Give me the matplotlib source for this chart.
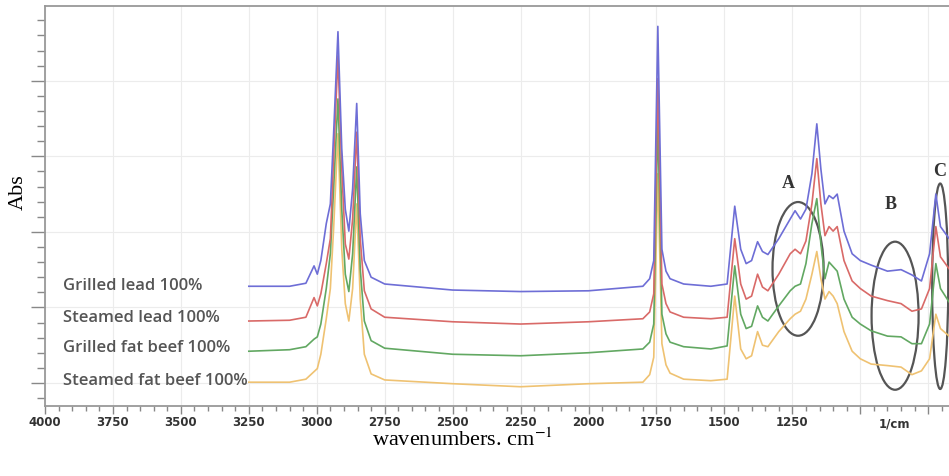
import matplotlib.pyplot as plt
from matplotlib.patches import Ellipse
from matplotlib.ticker import MultipleLocator

plt.rcParams["mathtext.fontset"] = "stix"

# wavenumbers (1/cm) shared by all four spectra
wavenumbers = [
    3250, 3100, 3040, 3010, 2998, 2985, 2965, 2950, 2938, 2922, 2908, 2895,
    2882, 2868, 2853, 2840, 2825, 2800, 2750, 2500, 2250, 2000, 1800, 1775,
    1760, 1745, 1730, 1715, 1700, 1650, 1550, 1490, 1462, 1440, 1420, 1400,
    1378, 1360, 1340, 1300, 1258, 1240, 1220, 1200, 1178, 1160, 1145, 1130,
    1115, 1100, 1085, 1060, 1030, 1000, 960, 900, 850, 810, 775, 745, 722,
    705, 673, 640,
]

grilled_lead = [
    1.28, 1.28, 1.32, 1.55, 1.44, 1.62, 2.11, 2.37, 3.30, 4.65, 3.10, 2.30,
    2.01, 2.57, 3.70, 2.24, 1.62, 1.40, 1.31, 1.23, 1.21, 1.22, 1.28, 1.38,
    1.62, 4.72, 1.77, 1.48, 1.38, 1.31, 1.28, 1.31, 2.34, 1.77, 1.58, 1.62,
    1.87, 1.74, 1.70, 1.91, 2.17, 2.28, 2.17, 2.30, 2.77, 3.43, 2.83, 2.37,
    2.48, 2.44, 2.50, 2.01, 1.71, 1.62, 1.56, 1.48, 1.50, 1.43, 1.35, 1.71,
    2.50, 2.07, 1.91, 1.84,
]

steamed_lead = [
    0.82, 0.83, 0.87, 1.13, 1.02, 1.18, 1.58, 1.91, 2.97, 4.33, 2.83, 1.84,
    1.64, 2.17, 3.32, 1.91, 1.22, 0.98, 0.87, 0.81, 0.78, 0.81, 0.85, 0.94,
    1.18, 4.03, 1.31, 1.05, 0.94, 0.87, 0.85, 0.87, 1.91, 1.31, 1.11, 1.15,
    1.44, 1.27, 1.22, 1.44, 1.71, 1.77, 1.71, 1.88, 2.37, 2.97, 2.37, 1.95,
    2.07, 2.01, 2.07, 1.62, 1.35, 1.25, 1.15, 1.09, 1.05, 0.95, 0.98, 1.25,
    2.07, 1.67, 1.51, 1.44,
]

grilled_fat_beef = [
    0.42, 0.44, 0.48, 0.58, 0.61, 0.78, 1.25, 1.71, 2.57, 3.76, 2.30, 1.44,
    1.21, 1.71, 2.86, 1.51, 0.82, 0.56, 0.46, 0.38, 0.36, 0.40, 0.45, 0.54,
    0.78, 3.50, 0.91, 0.65, 0.54, 0.48, 0.45, 0.49, 1.55, 0.91, 0.72, 0.75,
    1.02, 0.87, 0.82, 1.02, 1.22, 1.28, 1.31, 1.58, 2.11, 2.44, 1.84, 1.38,
    1.60, 1.54, 1.48, 1.11, 0.87, 0.78, 0.69, 0.62, 0.61, 0.52, 0.52, 0.78,
    1.58, 1.25, 1.07, 1.01,
]

steamed_fat_beef = [
    0.01, 0.01, 0.05, 0.15, 0.19, 0.38, 0.85, 1.25, 2.04, 3.30, 1.77, 1.05,
    0.82, 1.25, 2.37, 1.11, 0.38, 0.12, 0.04, -0.01, -0.05, -0.01, 0.01, 0.11,
    0.34, 2.77, 0.52, 0.24, 0.13, 0.05, 0.03, 0.05, 1.15, 0.45, 0.32, 0.36,
    0.68, 0.50, 0.48, 0.68, 0.85, 0.91, 0.95, 1.11, 1.44, 1.74, 1.38, 1.11,
    1.21, 1.15, 1.05, 0.68, 0.42, 0.32, 0.25, 0.23, 0.21, 0.11, 0.16, 0.32,
    0.91, 0.72, 0.62, 0.58,
]

series = [
    ("Steamed fat beef 100%", steamed_fat_beef, "#efc272", 0.04),
    ("Grilled fat beef 100%", grilled_fat_beef, "#62a862", 0.48),
    ("Steamed lead 100%", steamed_lead, "#d96a68", 0.87),
    ("Grilled lead 100%", grilled_lead, "#6e6ed6", 1.30),
]

tick_values = [4000, 3750, 3500, 3250, 3000, 2750, 2500, 2250, 2000, 1750, 1500, 1250, 1000, 750]
tick_labels = ["4000", "3750", "3500", "3250", "3000", "2750", "2500", "2250",
               "2000", "1750", "1500", "1250", "", ""]

# regions marked on the spectra: (label, centre wn, centre abs, width, height, label wn, label abs)
regions = [
    ("A", 1229, 1.51, 188, 1.77, 1265, 2.66),
    ("B", 872, 0.89, 173, 1.96, 890, 2.37),
    ("C", 706, 1.28, 59, 2.72, 708, 2.81),
]

fig = plt.figure(figsize=(9.49, 4.77), dpi=100)
ax = fig.add_axes([45 / 949, 70 / 477, 924 / 949, 400 / 477])

for label, values, color, label_y in series:
    ax.plot(wavenumbers, values, color=color, lw=1.2)
    ax.text(3935, label_y, label, ha="left", va="center", fontsize=12,
            family="Open Sans", weight="semibold", color="#555555")

for name, cx, cy, w, h, lx, ly in regions:
    ax.add_patch(Ellipse((cx, cy), w, h, fill=False, edgecolor="#555555", lw=1.6))
    ax.text(lx, ly, name, ha="center", va="center", fontsize=13,
            family="Liberation Serif", weight="bold", color="#333333")

ax.set_xlim(4000, 600)
ax.set_ylim(-0.305, 4.99)

ax.set_xticks(tick_values)
ax.set_xticklabels(tick_labels)
ax.xaxis.set_minor_locator(MultipleLocator(50))
ax.yaxis.set_major_locator(MultipleLocator(1))
ax.yaxis.set_minor_locator(MultipleLocator(0.2))
ax.set_yticklabels([])

ax.tick_params(axis="x", which="major", length=6, width=1, color="#888888",
               labelsize=8.5, labelcolor="#333333", pad=0.5)
ax.tick_params(axis="x", which="minor", length=3.5, width=1, color="#888888")
ax.tick_params(axis="y", which="major", length=10, width=1, color="#888888")
ax.tick_params(axis="y", which="minor", length=6, width=1, color="#888888")
for lbl in ax.get_xticklabels():
    lbl.set_fontweight("bold")

# unit label sits in the gap between the 1000 and 750 ticks
ax.annotate("1/cm", xy=(875, 0), xycoords=("data", "axes fraction"),
            xytext=(0, -12), textcoords="offset points", ha="center",
            va="center", fontsize=8.5, weight="bold", color="#333333")

for spine in ax.spines.values():
    spine.set_color("#999999")
    spine.set_linewidth(1.3)

ax.grid(True, which="major", color="#ececec", lw=0.8)
ax.set_axisbelow(True)

fig.text(463 / 949, 1 - 440 / 477, r"wavenumbers. cm$^{-1}$", ha="center",
         va="center", fontsize=16, family="Liberation Serif")
fig.text(18 / 949, 1 - 192 / 477, "Abs", ha="center", va="center",
         rotation=90, fontsize=16, family="Liberation Serif")

fig.savefig("out.png", dpi=100)
